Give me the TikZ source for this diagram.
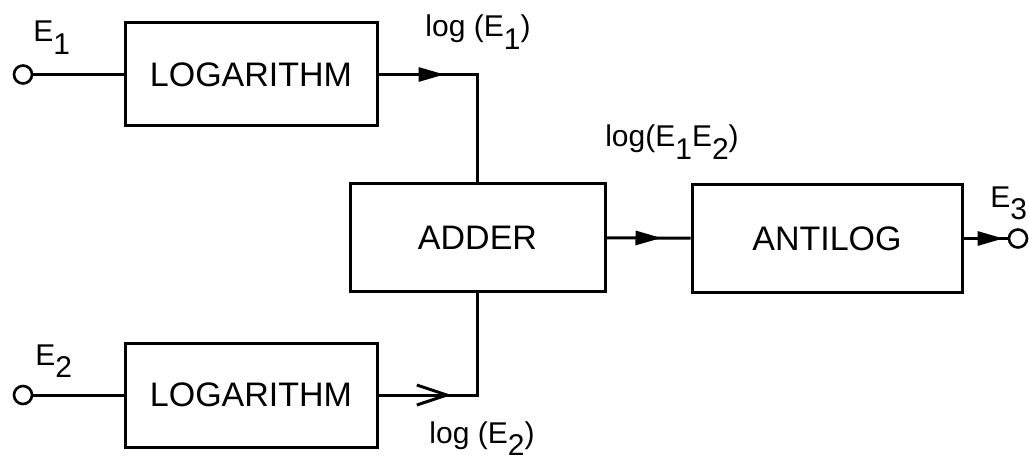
\documentclass[tikz,border=0pt]{standalone}
\usepackage{fontspec}
\setmainfont{Liberation Sans}
\usetikzlibrary{arrows.meta,decorations.markings}

\newcommand{\lo}[1]{\raisebox{-0.43em}{#1}}

\tikzset{
  block/.style={draw, line width=1.5pt, inner sep=0pt, font=\fontsize{17}{20}\selectfont},
  port/.style={draw, circle, line width=1.3pt, minimum size=9pt, inner sep=0pt},
  wire/.style={line width=1.5pt},
  sig/.style={inner sep=0pt, font=\fontsize{15}{18}\selectfont},
  tipat/.style={postaction={decorate}, decoration={markings,
    mark=at position #1 with {\arrow{Triangle[length=13pt,width=7pt]}}}},
  opentipat/.style={postaction={decorate}, decoration={markings,
    mark=at position #1 with {\arrow{Straight Barb[length=15pt,width=10pt,line width=1.5pt]}}}}
}

\begin{document}
\begin{tikzpicture}[x=0.5pt,y=-0.5pt]
  \useasboundingbox (0,0) rectangle (1029,460);

  \node[block, minimum width=126pt, minimum height=51.5pt] (logA) at (251,74.5) {LOGARITHM};
  \node[block, minimum width=126pt, minimum height=52pt] (logB) at (251,395) {LOGARITHM};
  \node[block, minimum width=127.5pt, minimum height=53.5pt] (adder) at (477.5,237.5) {ADDER};
  \node[block, minimum width=135pt, minimum height=53.5pt] (antilog) at (827,238.5) {ANTILOG};

  \node[port] (inA) at (23,74.5) {};
  \node[port] (inB) at (23,395) {};
  \node[port] (out) at (1018,238.5) {};

  \draw[wire] (inA) -- (logA);
  \draw[wire] (inB) -- (logB);
  \draw[wire, tipat=33pt] (logA.east) -- (logA.east -| adder.north) -- (adder.north);
  \draw[wire, opentipat=36.5pt] (logB.east) -- (logB.east -| adder.south) -- (adder.south);
  \draw[wire, tipat=27.5pt] (adder) -- (antilog);
  \draw[wire, tipat=20pt] (antilog) -- (out);

  \node[sig, anchor=base west] (eA) at (33,42) {E\lo{1}};
  \node[sig, anchor=base west] (eB) at (35,365) {E\lo{2}};
  \node[sig, anchor=base west] (eC) at (990,207) {E\lo{3}};
  \node[sig, anchor=base] (logEA) at (478,37) {log (E\lo{1})};
  \node[sig, anchor=base] (logEB) at (482,443) {log (E\lo{2})};
  \node[sig, anchor=base] (logEAB) at (672,147) {log(E\lo{1}E\lo{2})};
\end{tikzpicture}
\end{document}
